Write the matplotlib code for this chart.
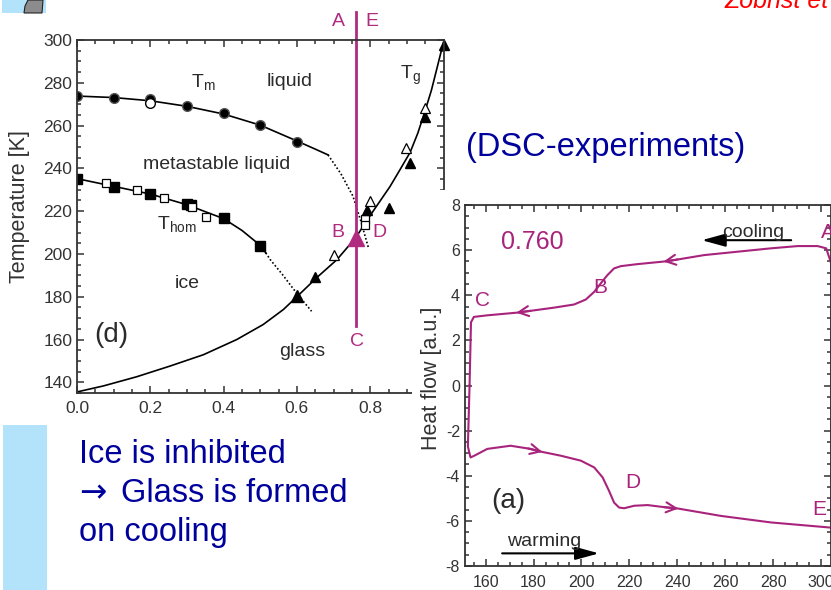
import numpy as np
import matplotlib
matplotlib.use('Agg')
import matplotlib.pyplot as plt
from matplotlib.patches import Rectangle, Polygon
from matplotlib.ticker import MultipleLocator

plt.rcParams['font.family'] = ['Liberation Sans', 'DejaVu Sans']
plt.rcParams['axes.unicode_minus'] = False

# ---- (d) state diagram, mass fraction vs temperature
# melting line T_m
tm_pts_x = [0.0, 0.1, 0.2, 0.3, 0.4, 0.5, 0.6]
tm_pts_T = [274.0, 273.0, 272.4, 269.2, 265.7, 260.3, 252.5]
tm_open_x = [0.2]
tm_open_T = [270.4]
tm_fit_x = [0.0, 0.1, 0.2, 0.3, 0.4, 0.5, 0.6, 0.65, 0.685]
tm_fit_T = [273.8, 273.1, 271.6, 269.0, 265.4, 260.2, 252.8, 249.0, 246.3]
tm_ext_x = [0.685, 0.72, 0.753, 0.775, 0.795]
tm_ext_T = [246.3, 237.5, 227.0, 215.0, 203.0]

# homogeneous nucleation line T_hom
thom_pts_x = [0.0, 0.1, 0.2, 0.3, 0.31, 0.4, 0.5]
thom_pts_T = [235.0, 231.5, 228.2, 223.3, 222.9, 216.7, 203.7]
thom_open_x = [0.08, 0.163, 0.238, 0.315, 0.352, 0.787, 0.787]
thom_open_T = [233.0, 229.9, 226.0, 222.0, 217.1, 216.5, 213.5]
thom_fit_x = [0.0, 0.1, 0.2, 0.3, 0.4, 0.45, 0.5, 0.515]
thom_fit_T = [235.2, 231.6, 228.0, 223.0, 216.5, 211.0, 204.0, 200.5]
thom_ext_x = [0.515, 0.527, 0.56, 0.6, 0.64]
thom_ext_T = [200.5, 197.4, 190.5, 181.5, 173.2]

# glass transition T_g
tg_pts_x = [0.65, 0.79, 0.85, 0.909, 0.95, 1.0]
tg_pts_T = [189.4, 220.6, 221.4, 242.4, 264.2, 297.7]
tg_big_x = [0.6]
tg_big_T = [180.5]
tg_open_x = [0.7, 0.8, 0.898, 0.95]
tg_open_T = [199.5, 224.8, 249.4, 268.0]
tg_fit_x = [0.0, 0.072, 0.163, 0.254, 0.345, 0.436, 0.508, 0.563, 0.6, 0.654,
            0.709, 0.76, 0.804, 0.854, 0.88, 0.909, 0.93, 0.95, 0.967, 0.981, 1.0]
tg_fit_T = [135.5, 138.3, 142.6, 147.6, 152.9, 160.0, 167.0, 174.0, 180.0, 188.9,
            197.3, 207.5, 219.0, 231.5, 239.0, 247.5, 256.5, 267.0, 276.5, 286.0, 299.0]

# measured solution
sample_x = 0.76
sample_T = 207.5
path_T = [166.3, 313.0]

# ---- (a) DSC scan for 0.760
cool_T = [304.3, 304.2, 302.1, 298.5, 290.2, 279.1, 265.1, 251.2, 235.9, 223.4,
          216.4, 213.6, 210.8, 208.0, 205.3, 201.8, 196.9, 188.5, 173.2, 160.7,
          155.1, 153.9, 153.3]
cool_q = [-6.2, 5.41, 6.08, 6.18, 6.18, 6.08, 5.93, 5.78, 5.51, 5.38,
          5.29, 5.19, 4.89, 4.52, 4.15, 3.81, 3.59, 3.45, 3.23, 3.11,
          3.04, 2.8, 0.0]
warm_T = [153.3, 152.6, 153.7, 155.5, 160.7, 170.4, 178.8, 183.0, 191.3, 199.7,
          205.3, 208.8, 211.5, 213.6, 215.7, 217.8, 222.0, 227.6, 235.9, 240.1,
          258.2, 279.1, 304.2]
warm_q = [0.0, -2.7, -3.19, -3.1, -2.81, -2.67, -2.81, -2.93, -3.11, -3.33,
          -3.63, -4.07, -4.67, -5.19, -5.41, -5.44, -5.33, -5.30, -5.41, -5.45,
          -5.78, -6.07, -6.30]
cool_arrows = [234.2, 172.8]
warm_arrows = [183.7, 240.4]

magenta = '#b02a80'
dsc_col = '#a8247c'
ink = '#2b2b2b'
blue = '#00009c'

fig = plt.figure(figsize=(8.31, 5.90), dpi=100)

# slide decorations
fig.add_artist(Rectangle((2/831, 1-13/590), 44/831, 13/590, transform=fig.transFigure,
                         facecolor='#b3e2fb', edgecolor='none'))
fig.add_artist(Polygon([(24/831, 1-13/590), (25/831, 1-6/590), (28/831, 1.0),
                        (43/831, 1.0), (42/831, 1-13/590)], closed=True,
                       transform=fig.transFigure, facecolor='#8c8c8c',
                       edgecolor='#222222', lw=0.8))
fig.add_artist(Rectangle((3/831, 0), 44/831, 1-425/590, transform=fig.transFigure,
                         facecolor='#b3e2fb', edgecolor='none'))

# ---------------- state diagram
ax = fig.add_axes([77/831, 1-393/590, 366.5/831, 353/590])
ax.plot(tm_fit_x, tm_fit_T, color='k', lw=1.2)
ax.plot(tm_ext_x, tm_ext_T, color='k', lw=1.2, ls=(0, (1, 1.3)))
ax.plot(thom_fit_x, thom_fit_T, color='k', lw=1.2)
ax.plot(thom_ext_x, thom_ext_T, color='k', lw=1.2, ls=(0, (1, 1.3)))
ax.plot(tg_fit_x, tg_fit_T, color='k', lw=1.2)

ax.plot(tm_pts_x, tm_pts_T, 'o', color='k', ms=7, mec='#555555')
ax.plot(tm_open_x, tm_open_T, 'o', mfc='white', mec='k', ms=7)
ax.plot(thom_pts_x, thom_pts_T, 's', color='k', ms=7)
ax.plot(thom_open_x, thom_open_T, 's', mfc='white', mec='k', ms=6, mew=0.9)
ax.plot(tg_pts_x, tg_pts_T, '^', color='k', ms=7, clip_on=False)
ax.plot(tg_big_x, tg_big_T, '^', color='k', ms=9)
ax.plot(tg_open_x, tg_open_T, '^', mfc='white', mec='k', ms=7, mew=0.9)

ax.plot([sample_x, sample_x], path_T, color=magenta, lw=2.0, clip_on=False)
ax.plot([sample_x], [sample_T], '^', color=magenta, ms=11)

lab = dict(color=magenta, fontsize=14, ha='center', va='center')
ax.text(0.713, 308.6, 'A', clip_on=False, **lab)
ax.text(0.804, 308.6, 'E', clip_on=False, **lab)
ax.text(0.713, 209.8, 'B', **lab)
ax.text(0.824, 209.8, 'D', **lab)
ax.text(0.763, 159.3, 'C', **lab)

txt = dict(color=ink, fontsize=14, va='center')
ax.text(0.581, 280.4, 'liquid', ha='center', **txt)
ax.text(0.311, 280.0, r'T$_\mathregular{m}$', ha='left', **txt)
ax.text(0.382, 241.6, 'metastable liquid', ha='center', **txt)
ax.text(0.218, 213.5, r'T$_\mathregular{hom}$', ha='left', **txt)
ax.text(0.3015, 186.2, 'ice', ha='center', **txt)
ax.text(0.615, 154.6, 'glass', ha='center', **txt)
ax.text(0.881, 283.6, r'T$_\mathregular{g}$', ha='left', **txt)
ax.text(0.0935, 161.9, '(d)', ha='center', color=ink, fontsize=20, va='center')

ax.set_xlim(0, 1.0)
ax.set_ylim(135, 300)
ax.xaxis.set_minor_locator(MultipleLocator(0.05))
ax.yaxis.set_major_locator(MultipleLocator(20))
ax.yaxis.set_minor_locator(MultipleLocator(5))
# the 1.0 label sits under the DSC panel
ax.set_xticks(np.arange(0, 1.01, 0.2))
ax.set_xticklabels(['0.0', '0.2', '0.4', '0.6', '0.8', ''])
ax.tick_params(which='both', direction='in', top=True, right=True,
               colors='#333333', labelsize=12.5, width=1.1)
ax.tick_params(which='major', length=5)
ax.tick_params(which='minor', length=3)
ax.tick_params(axis='y', pad=3.5)
ax.tick_params(axis='x', pad=6)
for s in ax.spines.values():
    s.set_linewidth(1.3)
    s.set_color('#333333')

fig.text(19.5/831, 1-206.5/590, 'Temperature [K]', rotation=90, ha='center',
         va='center', fontsize=15.5, color='#333333')

# white page of the DSC panel lies over the corner of the diagram
fig.add_artist(Rectangle((412/831, 0), 1-412/831, 1-190/590, transform=fig.transFigure,
                         facecolor='white', edgecolor='none', zorder=1))

# ---------------- DSC scan
ax2 = fig.add_axes([465/831, 1-566/590, 365.5/831, 361/590])
ax2.set_zorder(2)
ax2.plot(cool_T, cool_q, color=dsc_col, lw=1.5)
ax2.plot(warm_T, warm_q, color=dsc_col, lw=1.5)

ct = cool_T[::-1]
cq = cool_q[::-1]
for xa in cool_arrows:
    ax2.annotate('', xy=(xa, np.interp(xa, ct[2:], cq[2:])),
                 xytext=(xa + 6, np.interp(xa + 6, ct[2:], cq[2:])),
                 arrowprops=dict(arrowstyle='->', color=dsc_col, lw=1.5,
                                 mutation_scale=18, shrinkA=0, shrinkB=0))
for xa in warm_arrows:
    ax2.annotate('', xy=(xa, np.interp(xa, warm_T[3:], warm_q[3:])),
                 xytext=(xa - 6, np.interp(xa - 6, warm_T[3:], warm_q[3:])),
                 arrowprops=dict(arrowstyle='->', color=dsc_col, lw=1.5,
                                 mutation_scale=18, shrinkA=0, shrinkB=0))

blk = dict(arrowstyle='-|>,head_length=0.8,head_width=0.22', color='k', lw=1.5,
           mutation_scale=18, shrinkA=0, shrinkB=0)
ax2.annotate('', xy=(250.2, 6.44), xytext=(287.5, 6.44), arrowprops=blk)
ax2.annotate('', xy=(207.3, -7.44), xytext=(166.9, -7.44), arrowprops=blk)
ax2.text(271.8, 6.59, 'cooling', ha='center', va='baseline', fontsize=14, color=ink)
ax2.text(184.3, -7.11, 'warming', ha='center', va='baseline', fontsize=14, color=ink)

ax2.text(179.5, 6.37, '0.760', ha='center', va='center', fontsize=18, color=dsc_col)
lab2 = dict(color=dsc_col, fontsize=15, ha='center', va='center')
ax2.text(303.0, 6.8, 'A', clip_on=False, **lab2)
ax2.text(207.7, 4.34, 'B', **lab2)
ax2.text(158.5, 3.75, 'C', **lab2)
ax2.text(221.6, -4.3, 'D', **lab2)
ax2.text(299.0, -5.48, 'E', **lab2)
ax2.text(169.6, -5.11, '(a)', ha='center', va='center', fontsize=20, color=ink)

ax2.set_xlim(151.4, 303.9)
ax2.set_ylim(-8, 8)
ax2.xaxis.set_major_locator(MultipleLocator(20))
ax2.xaxis.set_minor_locator(MultipleLocator(5))
ax2.yaxis.set_major_locator(MultipleLocator(2))
ax2.yaxis.set_minor_locator(MultipleLocator(0.5))
ax2.tick_params(which='both', direction='in', top=True, right=True,
                colors='#333333', labelsize=11.5, width=1.1)
ax2.tick_params(which='major', length=5)
ax2.tick_params(which='minor', length=3)
ax2.tick_params(axis='y', pad=3.6)
ax2.tick_params(axis='x', pad=6.5)
for s in ax2.spines.values():
    s.set_linewidth(1.3)
    s.set_color('#333333')

fig.text(431/831, 1-378/590, 'Heat flow [a.u.]', rotation=90, ha='center',
         va='center', fontsize=15.5, color='#333333')

# slide text
big = dict(color=blue, fontsize=23.5, va='baseline')
fig.text(466/831, 1-156/590, '(DSC-experiments)', **big)
fig.text(79/831, 1-463/590, 'Ice is inhibited', **big)
fig.text(79/831, 1-502/590, '\u2192', family=['DejaVu Sans'], **big)
fig.text(121/831, 1-502/590, 'Glass is formed', **big)
fig.text(79/831, 1-541/590, 'on cooling', **big)
fig.text(724/831, 1-8/590, 'Zobrist et al.', color='red', style='italic',
         fontsize=18, va='baseline')

fig.savefig('out.png', dpi=100)
